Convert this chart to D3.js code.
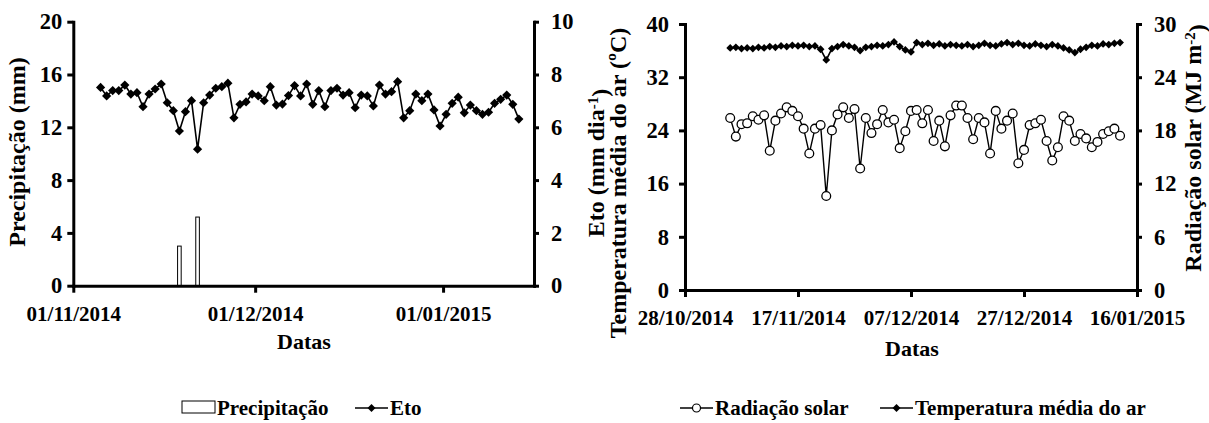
<!DOCTYPE html>
<html>
<head>
<meta charset="utf-8">
<script src="https://cdn.jsdelivr.net/npm/d3@7"></script>
<style>
  body { margin: 0; background: #fff; }
  svg text { font-family: "Liberation Serif", "Times New Roman", serif; font-weight: bold; fill: #000; }
</style>
</head>
<body>
<svg id="chart" width="1209" height="423"></svg>
<script>
// daily records, 05/11/2014 .. 13/01/2015
const datas = d3.timeDay.range(new Date(2014, 10, 5), new Date(2015, 0, 14));

const precipitacao = [0,0,0,0,0,0,0,0,0,0, 0,0,0,3.0,0,0,5.2,0,0,0,
  0,0,0,0,0,0,0,0,0,0, 0,0,0,0,0,0,0,0,0,0, 0,0,0,0,0,0,0,0,0,0,
  0,0,0,0,0,0,0,0,0,0, 0,0,0,0,0,0,0,0,0,0];

const eto = [7.51,7.19,7.39,7.39,7.60,7.26,7.31,6.78,7.26,7.45,
  7.64,6.93,6.63,5.86,6.59,7.01,5.17,6.93,7.22,7.48,
  7.54,7.67,6.36,6.87,6.96,7.26,7.19,7.01,7.54,6.84,
  6.88,7.20,7.58,7.19,7.64,6.87,7.39,6.78,7.39,7.48,
  7.22,7.31,6.74,7.22,7.19,6.81,7.60,7.26,7.35,7.73,
  6.36,6.63,7.26,7.01,7.26,6.66,6.05,6.49,6.91,7.14,
  6.55,6.84,6.63,6.49,6.57,6.91,7.06,7.22,6.87,6.31];

const radiacao = [19.4,17.3,18.7,18.8,19.6,19.2,19.7,15.7,19.1,19.9,
  20.6,20.2,19.6,18.2,15.4,18.2,18.6,10.6,18.0,19.8,
  20.6,19.4,20.4,13.7,19.4,17.7,18.7,20.3,18.9,19.2,
  16.0,17.9,20.2,20.3,18.8,20.3,16.8,19.1,16.2,19.7,
  20.8,20.8,19.4,17.0,19.4,18.9,15.4,20.2,18.2,19.1,
  19.9,14.3,15.8,18.6,18.8,19.2,16.8,14.6,16.1,19.6,
  19.1,16.8,17.6,17.1,16.1,16.7,17.6,17.9,18.2,17.4];

const temperatura = [36.4,36.5,36.3,36.4,36.3,36.5,36.4,36.6,36.5,36.7,
  36.6,36.8,36.7,36.8,36.6,36.7,36.2,34.6,36.3,36.6,
  36.9,36.7,36.5,36.0,36.5,36.6,36.8,36.7,36.9,37.3,
  36.6,36.1,35.8,37.2,36.9,37.1,36.8,37.0,36.7,36.9,
  36.8,36.7,36.9,36.6,36.8,37.1,36.8,36.7,37.0,37.2,
  36.9,37.1,36.8,36.7,37.0,36.8,36.6,36.9,36.7,36.4,
  36.1,35.7,36.2,36.5,36.8,36.7,37.0,36.9,37.1,37.2];

const ticksPrecip = [0, 4, 8, 12, 16, 20];
const ticksEto = [0, 2, 4, 6, 8, 10];
const ticksTemp = [0, 8, 16, 24, 32, 40];
const ticksRad = [0, 6, 12, 18, 24, 30];
const datasEsq = ["01/11/2014", "01/12/2014", "01/01/2015"];
const datasDir = ["28/10/2014", "17/11/2014", "07/12/2014", "27/12/2014", "16/01/2015"];

const parse = d3.timeParse("%d/%m/%Y");
const fmt = d3.timeFormat("%d/%m/%Y");
const svg = d3.select("#chart");

function estilo(g, tam) {
  g.selectAll(".domain").attr("stroke", "#000").attr("stroke-width", 3).attr("stroke-linecap", "square");
  g.selectAll(".tick line").attr("stroke", "#000").attr("stroke-width", 3);
  g.selectAll(".tick text").style("font-size", tam || "21px").attr("fill", "#000");
  g.attr("font-family", null).attr("font-size", null);
}

function diamond(r) {
  return `M0,${-r}L${r},0L0,${r}L${-r},0Z`;
}

function tituloY(cx, cy, partes) {
  const t = svg.append("text")
    .attr("transform", `translate(${cx},${cy}) rotate(-90)`)
    .attr("text-anchor", "middle")
    .attr("dy", "0.35em")
    .style("font-size", "24px");
  partes.forEach(p => {
    const s = t.append("tspan").text(p.t);
    if (p.sup) s.attr("dy", "-0.45em").style("font-size", "15px");
    if (p.back) s.attr("dy", "0.45em");
  });
}

// ---------- left chart: precipitation + Eto ----------
const x1 = d3.scaleTime().domain([new Date(2014, 10, 1), new Date(2015, 0, 16)]).range([73.3, 534]);
const yP = d3.scaleLinear().domain([0, 20]).range([285.7, 21.7]);
const yE = d3.scaleLinear().domain([0, 10]).range([285.7, 21.7]);
const meioDia = d => d3.timeHour.offset(d, 12);

svg.append("g").selectAll("rect")
  .data(datas.map((d, i) => ({ d, v: precipitacao[i] })).filter(p => p.v > 0))
  .join("rect")
  .attr("x", p => x1(meioDia(p.d)) - 1.8)
  .attr("y", p => yP(p.v))
  .attr("width", 3.6)
  .attr("height", p => yP(0) - yP(p.v))
  .attr("fill", "#fff")
  .attr("stroke", "#000")
  .attr("stroke-width", 1);

svg.append("path")
  .datum(eto)
  .attr("fill", "none")
  .attr("stroke", "#000")
  .attr("stroke-width", 1.6)
  .attr("d", d3.line().x((v, i) => x1(meioDia(datas[i]))).y(v => yE(v)));

svg.append("g").selectAll("path")
  .data(eto)
  .join("path")
  .attr("transform", (v, i) => `translate(${x1(meioDia(datas[i]))},${yE(v)})`)
  .attr("d", diamond(4.6))
  .attr("fill", "#000");

svg.append("g").attr("transform", `translate(0,${yP(0)})`)
  .call(d3.axisBottom(x1).tickValues(datasEsq.map(parse)).tickFormat(fmt).tickSize(7).tickPadding(13).tickSizeOuter(0))
  .call(estilo);
svg.append("g").attr("transform", `translate(${x1.range()[0]},0)`)
  .call(d3.axisLeft(yP).tickValues(ticksPrecip).tickSize(6).tickPadding(5).tickSizeOuter(0))
  .call(estilo, "22.5px");
svg.append("g").attr("transform", `translate(${x1.range()[1]},0)`)
  .call(d3.axisRight(yE).tickValues(ticksEto).tickSize(5).tickPadding(12).tickSizeOuter(0))
  .call(estilo, "22.5px");

svg.append("text").attr("x", 304).attr("y", 349).attr("text-anchor", "middle")
  .style("font-size", "22px").text("Datas");
tituloY(17, 152, [{ t: "Precipitação (mm)" }]);
tituloY(596, 163, [{ t: "Eto (mm dia" }, { t: "-1", sup: true }, { t: ")", back: true }]);

// ---------- right chart: radiation + temperature ----------
const x2 = d3.scaleTime().domain([new Date(2014, 9, 28), new Date(2015, 0, 16)]).range([685, 1137]);
const yT = d3.scaleLinear().domain([0, 40]).range([290, 24]);
const yR = d3.scaleLinear().domain([0, 30]).range([290, 24]);

svg.append("path")
  .datum(temperatura)
  .attr("fill", "none")
  .attr("stroke", "#000")
  .attr("stroke-width", 1.6)
  .attr("d", d3.line().x((v, i) => x2(datas[i])).y(v => yT(v)));

svg.append("g").selectAll("path")
  .data(temperatura)
  .join("path")
  .attr("transform", (v, i) => `translate(${x2(datas[i])},${yT(v)})`)
  .attr("d", diamond(3.9))
  .attr("fill", "#000");

svg.append("path")
  .datum(radiacao)
  .attr("fill", "none")
  .attr("stroke", "#000")
  .attr("stroke-width", 1.4)
  .attr("d", d3.line().x((v, i) => x2(datas[i])).y(v => yR(v)));

svg.append("g").selectAll("circle")
  .data(radiacao)
  .join("circle")
  .attr("cx", (v, i) => x2(datas[i]))
  .attr("cy", v => yR(v))
  .attr("r", 4.4)
  .attr("fill", "#fff")
  .attr("stroke", "#000")
  .attr("stroke-width", 1.3);

svg.append("g").attr("transform", `translate(0,${yT(0)})`)
  .call(d3.axisBottom(x2).tickValues(datasDir.map(parse)).tickFormat(fmt).tickSize(7).tickPadding(13).tickSizeOuter(0))
  .call(estilo);
svg.append("g").attr("transform", `translate(${x2.range()[0]},0)`)
  .call(d3.axisLeft(yT).tickValues(ticksTemp).tickSize(6).tickPadding(10).tickSizeOuter(0))
  .call(estilo, "22.5px");
svg.append("g").attr("transform", `translate(${x2.range()[1]},0)`)
  .call(d3.axisRight(yR).tickValues(ticksRad).tickSize(5).tickPadding(12).tickSizeOuter(0))
  .call(estilo, "22.5px");

svg.append("text").attr("x", 912).attr("y", 356).attr("text-anchor", "middle")
  .style("font-size", "22px").text("Datas");
tituloY(618, 183, [{ t: "Temperatura média do ar (ºC)" }]);
tituloY(1193, 148, [{ t: "Radiação solar (MJ m" }, { t: "-2", sup: true }, { t: ")", back: true }]);

// ---------- legends ----------
const leg = svg.append("g").style("font-size", "21px");
leg.append("rect").attr("x", 182).attr("y", 401).attr("width", 33).attr("height", 12)
  .attr("fill", "#fff").attr("stroke", "#000").attr("stroke-width", 1);
leg.append("text").attr("x", 217).attr("y", 415).text("Precipitação");

const linhasLeg = [
  { x: 355, label: "Eto", mark: "d" },
  { x: 680, label: "Radiação solar", mark: "c" },
  { x: 880, label: "Temperatura média do ar", mark: "d" }
];
linhasLeg.forEach(l => {
  leg.append("line").attr("x1", l.x).attr("x2", l.x + 33).attr("y1", 408).attr("y2", 408)
    .attr("stroke", "#000").attr("stroke-width", 1.6);
  if (l.mark === "d") {
    leg.append("path").attr("transform", `translate(${l.x + 16.5},408)`).attr("d", diamond(4)).attr("fill", "#000");
  } else {
    leg.append("circle").attr("cx", l.x + 16.5).attr("cy", 408).attr("r", 4)
      .attr("fill", "#fff").attr("stroke", "#000").attr("stroke-width", 1.2);
  }
  leg.append("text").attr("x", l.x + 35).attr("y", 415).text(l.label);
});
</script>
</body>
</html>
